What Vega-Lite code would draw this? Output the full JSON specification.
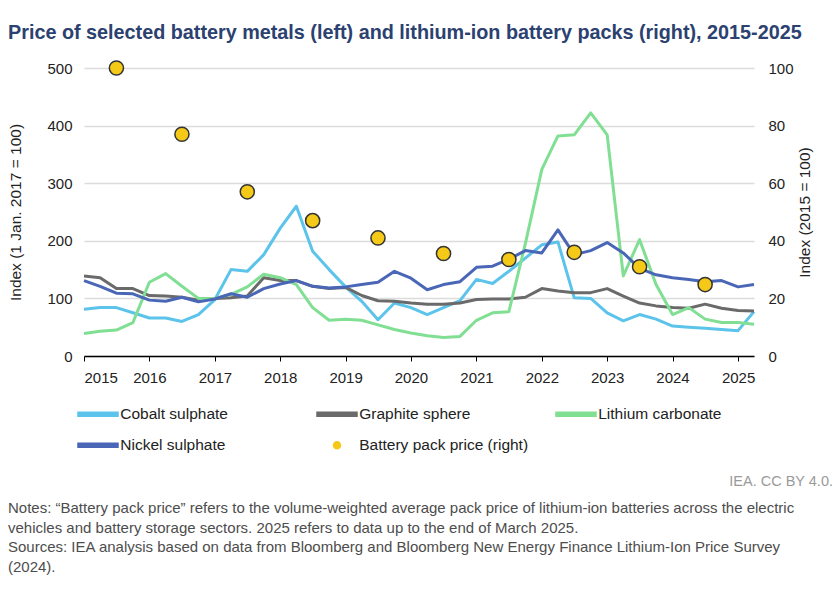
{
  "$schema": "https://vega.github.io/schema/vega-lite/v6.json",
  "padding": {"left": 8, "top": 22, "right": 3, "bottom": 0},
  "background": "white",
  "title": {
    "text": "Price of selected battery metals (left) and lithium-ion battery packs (right), 2015-2025",
    "anchor": "start",
    "frame": "bounds",
    "font": "Liberation Sans",
    "fontSize": 19.8,
    "fontWeight": "bold",
    "color": "#2b4170",
    "offset": 15.5
  },
  "datasets": {
    "metals": [
      {"date": "2015-01-01", "Cobalt sulphate": 81, "Graphite sphere": 139, "Lithium carbonate": 39, "Nickel sulphate": 131},
      {"date": "2015-04-01", "Cobalt sulphate": 84, "Graphite sphere": 136, "Lithium carbonate": 43, "Nickel sulphate": 121},
      {"date": "2015-07-01", "Cobalt sulphate": 84, "Graphite sphere": 117, "Lithium carbonate": 45, "Nickel sulphate": 109},
      {"date": "2015-10-01", "Cobalt sulphate": 75, "Graphite sphere": 117, "Lithium carbonate": 58, "Nickel sulphate": 108},
      {"date": "2016-01-01", "Cobalt sulphate": 66, "Graphite sphere": 105, "Lithium carbonate": 128, "Nickel sulphate": 97},
      {"date": "2016-04-01", "Cobalt sulphate": 66, "Graphite sphere": 104, "Lithium carbonate": 143, "Nickel sulphate": 95},
      {"date": "2016-07-01", "Cobalt sulphate": 60, "Graphite sphere": 102, "Lithium carbonate": 121, "Nickel sulphate": 102},
      {"date": "2016-10-01", "Cobalt sulphate": 72, "Graphite sphere": 97, "Lithium carbonate": 100, "Nickel sulphate": 94},
      {"date": "2017-01-01", "Cobalt sulphate": 98, "Graphite sphere": 100, "Lithium carbonate": 100, "Nickel sulphate": 99},
      {"date": "2017-04-01", "Cobalt sulphate": 150, "Graphite sphere": 101, "Lithium carbonate": 107, "Nickel sulphate": 108},
      {"date": "2017-07-01", "Cobalt sulphate": 147, "Graphite sphere": 104, "Lithium carbonate": 120, "Nickel sulphate": 102},
      {"date": "2017-10-01", "Cobalt sulphate": 176, "Graphite sphere": 136, "Lithium carbonate": 142, "Nickel sulphate": 117},
      {"date": "2018-01-01", "Cobalt sulphate": 222, "Graphite sphere": 131, "Lithium carbonate": 136, "Nickel sulphate": 125},
      {"date": "2018-04-01", "Cobalt sulphate": 260, "Graphite sphere": 131, "Lithium carbonate": 124, "Nickel sulphate": 131},
      {"date": "2018-07-01", "Cobalt sulphate": 182, "Graphite sphere": 121, "Lithium carbonate": 84, "Nickel sulphate": 121},
      {"date": "2018-10-01", "Cobalt sulphate": 150, "Graphite sphere": 117, "Lithium carbonate": 62, "Nickel sulphate": 118},
      {"date": "2019-01-01", "Cobalt sulphate": 120, "Graphite sphere": 119, "Lithium carbonate": 64, "Nickel sulphate": 120},
      {"date": "2019-04-01", "Cobalt sulphate": 95, "Graphite sphere": 105, "Lithium carbonate": 62, "Nickel sulphate": 124},
      {"date": "2019-07-01", "Cobalt sulphate": 63, "Graphite sphere": 96, "Lithium carbonate": 54, "Nickel sulphate": 128},
      {"date": "2019-10-01", "Cobalt sulphate": 92, "Graphite sphere": 95, "Lithium carbonate": 46, "Nickel sulphate": 147},
      {"date": "2020-01-01", "Cobalt sulphate": 84, "Graphite sphere": 92, "Lithium carbonate": 40, "Nickel sulphate": 135},
      {"date": "2020-04-01", "Cobalt sulphate": 72, "Graphite sphere": 90, "Lithium carbonate": 35, "Nickel sulphate": 115},
      {"date": "2020-07-01", "Cobalt sulphate": 84, "Graphite sphere": 90, "Lithium carbonate": 32, "Nickel sulphate": 124},
      {"date": "2020-10-01", "Cobalt sulphate": 96, "Graphite sphere": 92, "Lithium carbonate": 34, "Nickel sulphate": 129},
      {"date": "2021-01-01", "Cobalt sulphate": 133, "Graphite sphere": 98, "Lithium carbonate": 62, "Nickel sulphate": 154},
      {"date": "2021-04-01", "Cobalt sulphate": 126, "Graphite sphere": 99, "Lithium carbonate": 75, "Nickel sulphate": 156},
      {"date": "2021-07-01", "Cobalt sulphate": 147, "Graphite sphere": 99, "Lithium carbonate": 77, "Nickel sulphate": 168},
      {"date": "2021-10-01", "Cobalt sulphate": 170, "Graphite sphere": 102, "Lithium carbonate": 195, "Nickel sulphate": 183},
      {"date": "2022-01-01", "Cobalt sulphate": 193, "Graphite sphere": 117, "Lithium carbonate": 324, "Nickel sulphate": 179},
      {"date": "2022-04-01", "Cobalt sulphate": 198, "Graphite sphere": 113, "Lithium carbonate": 382, "Nickel sulphate": 219},
      {"date": "2022-07-01", "Cobalt sulphate": 101, "Graphite sphere": 110, "Lithium carbonate": 384, "Nickel sulphate": 176},
      {"date": "2022-10-01", "Cobalt sulphate": 100, "Graphite sphere": 110, "Lithium carbonate": 422, "Nickel sulphate": 183},
      {"date": "2023-01-01", "Cobalt sulphate": 75, "Graphite sphere": 117, "Lithium carbonate": 384, "Nickel sulphate": 197},
      {"date": "2023-04-01", "Cobalt sulphate": 61, "Graphite sphere": 104, "Lithium carbonate": 139, "Nickel sulphate": 179},
      {"date": "2023-07-01", "Cobalt sulphate": 72, "Graphite sphere": 92, "Lithium carbonate": 202, "Nickel sulphate": 152},
      {"date": "2023-10-01", "Cobalt sulphate": 64, "Graphite sphere": 87, "Lithium carbonate": 124, "Nickel sulphate": 141},
      {"date": "2024-01-01", "Cobalt sulphate": 52, "Graphite sphere": 84, "Lithium carbonate": 72, "Nickel sulphate": 136},
      {"date": "2024-04-01", "Cobalt sulphate": 50, "Graphite sphere": 83, "Lithium carbonate": 84, "Nickel sulphate": 133},
      {"date": "2024-07-01", "Cobalt sulphate": 48, "Graphite sphere": 90, "Lithium carbonate": 64, "Nickel sulphate": 129},
      {"date": "2024-10-01", "Cobalt sulphate": 46, "Graphite sphere": 83, "Lithium carbonate": 58, "Nickel sulphate": 131},
      {"date": "2025-01-01", "Cobalt sulphate": 44, "Graphite sphere": 79, "Lithium carbonate": 58, "Nickel sulphate": 120},
      {"date": "2025-03-31", "Cobalt sulphate": 77, "Graphite sphere": 78, "Lithium carbonate": 55, "Nickel sulphate": 124}
    ],
    "packs": [
      {"date": "2015-07-01", "series": "Battery pack price (right)", "index": 100},
      {"date": "2016-07-01", "series": "Battery pack price (right)", "index": 77},
      {"date": "2017-07-01", "series": "Battery pack price (right)", "index": 57},
      {"date": "2018-07-01", "series": "Battery pack price (right)", "index": 47},
      {"date": "2019-07-01", "series": "Battery pack price (right)", "index": 41},
      {"date": "2020-07-01", "series": "Battery pack price (right)", "index": 35.6},
      {"date": "2021-07-01", "series": "Battery pack price (right)", "index": 33.5},
      {"date": "2022-07-01", "series": "Battery pack price (right)", "index": 36},
      {"date": "2023-07-01", "series": "Battery pack price (right)", "index": 31},
      {"date": "2024-07-01", "series": "Battery pack price (right)", "index": 24.8}
    ],
    "notes": [
      {"note": "Notes: “Battery pack price” refers to the volume-weighted average pack price of lithium-ion batteries across the electric\nvehicles and battery storage sectors. 2025 refers to data up to the end of March 2025.\nSources: IEA analysis based on data from Bloomberg and Bloomberg New Energy Finance Lithium-Ion Price Survey\n(2024)."}
    ]
  },
  "vconcat": [
    {
      "width": 670,
      "height": 288,
      "layer": [
        {
          "data": {"name": "metals"},
          "transform": [
            {"fold": ["Cobalt sulphate", "Graphite sphere", "Lithium carbonate", "Nickel sulphate"], "as": ["series", "value"]}
          ],
          "mark": {"type": "line", "strokeWidth": 3, "strokeJoin": "round"},
          "encoding": {
            "x": {
              "field": "date",
              "type": "temporal",
              "scale": {"domain": [{"year": 2015, "month": 1, "date": 1}, {"year": 2025, "month": 3, "date": 31}]},
              "axis": {
                "title": null,
                "format": "%Y",
                "tickCount": {"interval": "year", "step": 1},
                "grid": false,
                "domainColor": "#000000",
                "domainWidth": 1.5,
                "tickColor": "#000000",
                "tickSize": 5,
                "labelFontSize": 15,
                "labelColor": "#222222",
                "labelPadding": 9
              }
            },
            "y": {
              "field": "value",
              "type": "quantitative",
              "scale": {"domain": [0, 500]},
              "axis": {
                "title": "Index (1 Jan. 2017 = 100)",
                "values": [0, 100, 200, 300, 400, 500],
                "domain": false,
                "ticks": false,
                "grid": true,
                "gridColor": "#dcdcdc",
                "gridWidth": 1.5,
                "labelFontSize": 15,
                "labelColor": "#222222",
                "labelPadding": 12,
                "titleFontSize": 15.5,
                "titleFontWeight": "normal",
                "titleColor": "#222222",
                "titlePadding": 23
              }
            },
            "color": {
              "field": "series",
              "type": "nominal",
              "scale": {
                "domain": ["Cobalt sulphate", "Graphite sphere", "Lithium carbonate", "Nickel sulphate", "Battery pack price (right)"],
                "range": ["#5cc3ea", "#6a6a6a", "#80df93", "#4a66b6", "#f5c918"]
              },
              "legend": {
                "title": null,
                "orient": "none",
                "direction": "horizontal",
                "legendX": -6,
                "legendY": 338,
                "columns": 3,
                "gridAlign": "all",
                "columnPadding": 24,
                "rowPadding": 14.5,
                "padding": 0,
                "symbolSize": 100,
                "symbolStrokeWidth": 1.5,
                "symbolOffset": 12.25,
                "labelFontSize": 15.5,
                "labelColor": "#222222",
                "labelOffset": 14.5,
                "labelLimit": 300,
                "encode": {
                  "symbols": {
                    "update": {
                      "shape": {"signal": "datum.value === 'Battery pack price (right)' ? 'M0.7,0A0.7,0.7,0,1,1,-0.7,0A0.7,0.7,0,1,1,0.7,0Z' : 'M-4,-0.4H4V0.4H-4Z'"},
                      "size": {"value": 100},
                      "strokeWidth": {"value": 1.5},
                      "fill": {"signal": "datum.value === 'Battery pack price (right)' ? '#f5c918' : scale('color', datum.value)"},
                      "stroke": {"signal": "datum.value === 'Battery pack price (right)' ? '#333333' : 'transparent'"},
                      "opacity": {"value": 1},
                      "fillOpacity": {"value": 1}
                    }
                  }
                }
              }
            }
          }
        },
        {
          "data": {"name": "packs"},
          "mark": {"type": "circle", "size": 200, "stroke": "#333333", "strokeWidth": 1.5, "opacity": 1},
          "encoding": {
            "x": {"field": "date", "type": "temporal"},
            "y": {
              "field": "index",
              "type": "quantitative",
              "scale": {"domain": [0, 100]},
              "axis": {
                "orient": "right",
                "title": "Index (2015 = 100)",
                "values": [0, 20, 40, 60, 80, 100],
                "domain": false,
                "ticks": false,
                "grid": false,
                "labelFontSize": 15,
                "labelColor": "#222222",
                "labelPadding": 14,
                "titleAngle": 270,
                "titleFontSize": 15.5,
                "titleFontWeight": "normal",
                "titleColor": "#222222",
                "titlePadding": 19
              }
            },
            "color": {"field": "series", "type": "nominal"}
          }
        }
      ],
      "resolve": {"scale": {"y": "independent"}}
    },
    {
      "width": 749,
      "height": 80,
      "title": {
        "text": "IEA. CC BY 4.0.",
        "anchor": "end",
        "frame": "group",
        "fontSize": 14.5,
        "fontWeight": "normal",
        "color": "#9a9a9a",
        "offset": 11.5
      },
      "data": {"name": "notes"},
      "mark": {
        "type": "text",
        "align": "left",
        "baseline": "top",
        "fontSize": 15,
        "lineHeight": 19.5,
        "lineBreak": "\n",
        "color": "#4d4d4d"
      },
      "encoding": {
        "text": {"field": "note"},
        "x": {"value": -76},
        "y": {"value": 0}
      }
    }
  ],
  "spacing": 89,
  "config": {
    "font": "Liberation Sans",
    "view": {"stroke": null}
  }
}
